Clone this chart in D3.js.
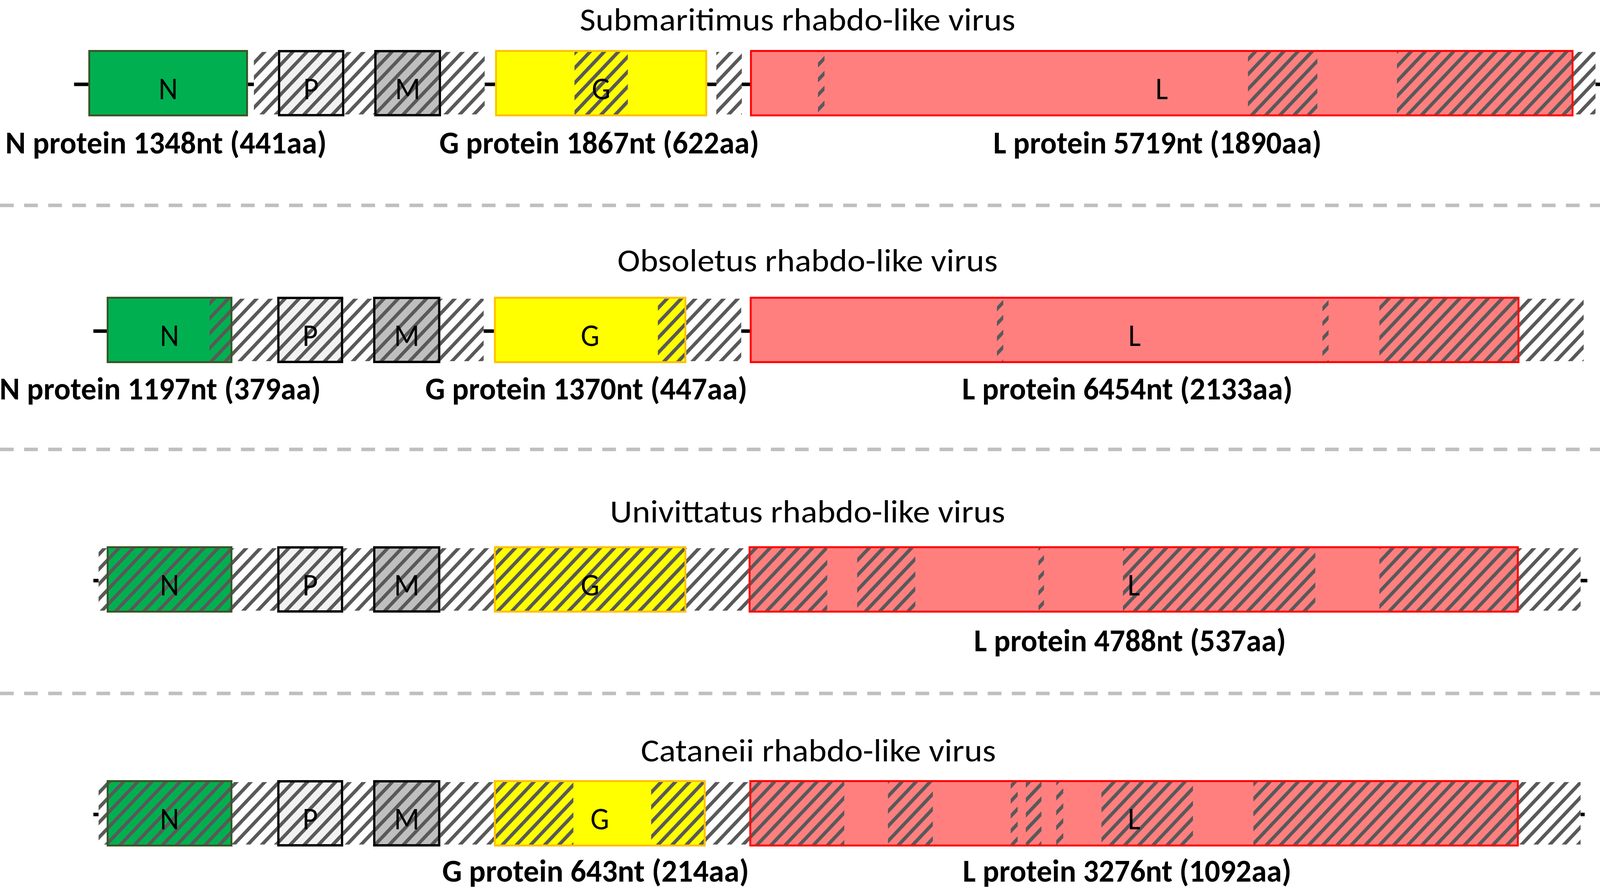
<!DOCTYPE html>
<html><head><meta charset="utf-8">
<script src="https://cdn.jsdelivr.net/npm/d3@7"></script>
<style>
html,body{margin:0;padding:0;background:#fff;overflow:hidden;width:100%;height:100%}
#chart{display:block;width:100vw;height:100vh}
</style>
</head><body>
<svg id="chart"></svg>
<script>
// ---------------- DATA (genome positions in figure units, 0..1568) ----------------
const viruses = [
  "Submaritimus rhabdo-like virus",
  "Obsoletus rhabdo-like virus",
  "Univittatus rhabdo-like virus",
  "Cataneii rhabdo-like virus"
];
const geneNames = ["N", "P", "M", "G", "L"];

// [start, end] of each ORF box, per virus, in the order of geneNames
const geneSpans = [
  [[86.6, 243.0], [272.4, 337.4], [366.8, 432.2], [485.2, 693.0], [735.0, 1542.0]],
  [[104.6, 227.7], [271.7, 336.3], [365.7, 431.5], [484.1, 672.6], [734.8, 1489.0]],
  [[104.6, 227.7], [271.7, 336.3], [365.7, 431.5], [484.1, 672.6], [733.7, 1488.4]],
  [[104.6, 227.7], [271.7, 336.3], [365.7, 431.5], [484.1, 691.5], [734.4, 1488.4]]
];

// hatched (shared-region) stretches inside the ORFs
const orfHatchSpans = [
  [[272.4, 337.4], [366.8, 432.2], [563.0, 615.3], [801.6, 808.0], [1223.0, 1291.0], [1369.0, 1542.0]],
  [[205.2, 227.7], [271.7, 336.3], [365.7, 431.5], [644.7, 672.6], [977.0, 983.2], [1296.0, 1302.0], [1351.8, 1489.0]],
  [[104.6, 227.7], [271.7, 336.3], [365.7, 431.5], [484.1, 672.6], [733.7, 810.7], [840.0, 897.0],
   [1017.7, 1023.1], [1100.5, 1289.0], [1351.8, 1488.4]],
  [[104.6, 227.7], [271.7, 336.3], [365.7, 431.5], [484.1, 561.9], [638.1, 691.5], [734.4, 827.4],
   [870.2, 914.2], [990.5, 997.3], [1005.3, 1020.6], [1035.1, 1042.0], [1079.4, 1169.1], [1228.3, 1488.4]]
];

// hatched stretches outside the ORFs (intergenic / UTR)
const intergenicSpans = [
  [[248.8, 272.4], [337.4, 366.8], [432.2, 475.0], [702.0, 727.0], [1542.0, 1563.6]],
  [[227.7, 271.7], [336.3, 365.7], [431.5, 474.0], [672.6, 726.4], [1489.0, 1552.0]],
  [[96.6, 104.6], [227.7, 271.7], [336.3, 365.7], [431.5, 484.1], [672.6, 733.7], [1488.4, 1549.0]],
  [[96.6, 104.6], [227.7, 271.7], [336.3, 365.7], [431.5, 484.1], [691.5, 734.4], [1488.4, 1549.0]]
];

// genome backbone extent
const backboneSpans = [[72.6, 1568.0], [91.5, 1552.0], [91.5, 1555.6], [91.5, 1553.0]];

// protein annotations under the maps
const proteinLabels = [
  [["N", "N protein 1348nt (441aa)"], ["G", "G protein 1867nt (622aa)"], ["L", "L protein 5719nt (1890aa)"]],
  [["N", "N protein 1197nt (379aa)"], ["G", "G protein 1370nt (447aa)"], ["L", "L protein 6454nt (2133aa)"]],
  [["L", "L protein 4788nt (537aa)"]],
  [["G", "G protein 643nt (214aa)"], ["L", "L protein 3276nt (1092aa)"]]
];

// ---------------- LAYOUT / STYLE ----------------
const W = 4317, H = 2282;
const rowTop = [128, 760, 1399, 1998];
const barH = 170;
const titleY = [78, 695, 1338, 1950];
const titleX = [781.6, 791.4, 791.4, 802.0];
const titleLen = [1175, 1026, 1066, 958];
const labelY = [393, 1023, 1668, 2258];
const labelX = [[162.7, 587.3, 1134.3], [157.0, 574.6, 1104.8], [1107.4], [583.7, 1104.5]];
const labelLen = [[867, 863, 886], [867, 869, 892], [842], [828, 887]];
const sepY = [526, 1151, 1776];
const geneStyle = {
  N: {fill: "#00b050", stroke: "#3b5526", sw: 5},
  P: {fill: "#f2f2f2", stroke: "#000000", sw: 6},
  M: {fill: "#bfbfbf", stroke: "#000000", sw: 6},
  G: {fill: "#ffff00", stroke: "#ffc000", sw: 5},
  L: {fill: "#ff7f7f", stroke: "#ff0000", sw: 5}
};
const FONT = "Carlito, Calibri, 'Open Sans', 'Noto Sans', sans-serif";

const x = d3.scaleLinear().domain([0, 1568]).range([0, W]);

const svg = d3.select("#chart")
  .attr("viewBox", `0 0 ${W} ${H}`)
  .attr("preserveAspectRatio", "none");
svg.append("rect").attr("width", W).attr("height", H).attr("fill", "#fff");

const defs = svg.append("defs");
defs.append("pattern")
  .attr("id", "hatch")
  .attr("patternUnits", "userSpaceOnUse")
  .attr("width", 27).attr("height", 27)
  .attr("patternTransform", "rotate(45)")
  .append("rect").attr("width", 9).attr("height", 27).attr("fill", "#595959");

// separators
svg.selectAll("line.sep").data(sepY).join("line")
  .attr("class", "sep")
  .attr("x1", 0).attr("x2", W)
  .attr("y1", d => d).attr("y2", d => d)
  .attr("stroke", "#bfbfbf").attr("stroke-width", 9)
  .attr("stroke-dasharray", "37 28");

viruses.forEach((name, i) => {
  const top = rowTop[i];
  const mid = top + barH / 2;
  const g = svg.append("g").attr("class", "row");

  // title
  g.append("text")
    .attr("x", x(titleX[i])).attr("y", titleY[i])
    .attr("text-anchor", "middle")
    .attr("font-family", FONT).attr("font-size", 82)
    .attr("textLength", titleLen[i]).attr("lengthAdjust", "spacingAndGlyphs")
    .attr("fill", "#000")
    .text(name);

  // backbone
  g.append("line")
    .attr("x1", x(backboneSpans[i][0])).attr("x2", x(backboneSpans[i][1]))
    .attr("y1", mid + 3).attr("y2", mid + 3)
    .attr("stroke", "#000").attr("stroke-width", 9);

  // intergenic hatched
  const ig = g.selectAll("g.ig").data(intergenicSpans[i]).join("g").attr("class", "ig");
  ig.append("rect")
    .attr("x", d => x(d[0])).attr("width", d => x(d[1]) - x(d[0]))
    .attr("y", top + 5).attr("height", barH - 10)
    .attr("fill", "#fff");
  ig.append("rect")
    .attr("x", d => x(d[0])).attr("width", d => x(d[1]) - x(d[0]))
    .attr("y", top + 5).attr("height", barH - 10)
    .attr("fill", "url(#hatch)");

  // gene fills
  const genes = geneSpans[i].map((s, k) => ({name: geneNames[k], s}));
  g.selectAll("rect.gfill").data(genes).join("rect")
    .attr("class", "gfill")
    .attr("x", d => x(d.s[0])).attr("width", d => x(d.s[1]) - x(d.s[0]))
    .attr("y", top).attr("height", barH)
    .attr("fill", d => geneStyle[d.name].fill);

  // hatched parts inside ORFs
  g.selectAll("rect.ghatch").data(orfHatchSpans[i]).join("rect")
    .attr("class", "ghatch")
    .attr("x", d => x(d[0])).attr("width", d => x(d[1]) - x(d[0]))
    .attr("y", top).attr("height", barH)
    .attr("fill", "url(#hatch)");

  // gene borders
  g.selectAll("rect.gborder").data(genes).join("rect")
    .attr("class", "gborder")
    .attr("x", d => x(d.s[0]) + geneStyle[d.name].sw / 2)
    .attr("width", d => x(d.s[1]) - x(d.s[0]) - geneStyle[d.name].sw)
    .attr("y", d => top + geneStyle[d.name].sw / 2)
    .attr("height", d => barH - geneStyle[d.name].sw)
    .attr("fill", "none")
    .attr("stroke", d => geneStyle[d.name].stroke)
    .attr("stroke-width", d => geneStyle[d.name].sw);

  // gene letters
  g.selectAll("text.gname").data(genes).join("text")
    .attr("class", "gname")
    .attr("x", d => (x(d.s[0]) + x(d.s[1])) / 2)
    .attr("y", top + 126)
    .attr("text-anchor", "middle")
    .attr("font-family", FONT).attr("font-size", 80)
    .attr("fill", "#000")
    .text(d => d.name);

  // protein labels
  g.selectAll("text.plabel").data(proteinLabels[i]).join("text")
    .attr("class", "plabel")
    .attr("x", (d, k) => x(labelX[i][k]))
    .attr("y", labelY[i])
    .attr("text-anchor", "middle")
    .attr("font-family", FONT).attr("font-size", 80).attr("font-weight", "bold")
    .attr("textLength", (d, k) => labelLen[i][k]).attr("lengthAdjust", "spacingAndGlyphs")
    .attr("fill", "#000")
    .text(d => d[1]);
});
</script>
</body></html>
